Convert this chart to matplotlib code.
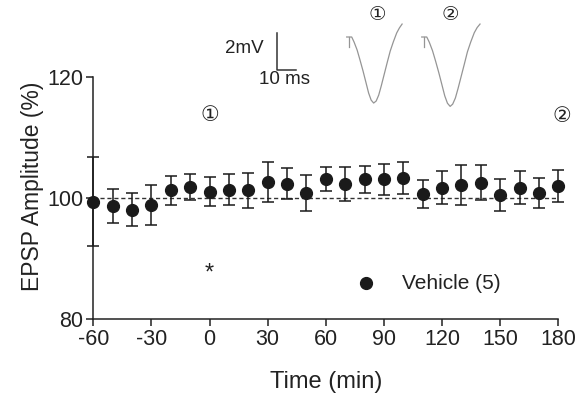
import matplotlib
matplotlib.use("Agg")
import matplotlib.pyplot as plt

plt.rcParams['font.family'] = ['Liberation Sans', 'DejaVu Sans']
plt.rcParams['axes.unicode_minus'] = False

# time course (min) and normalised EPSP amplitude, mean +/- SEM
time_min = [-60, -50, -40, -30, -20, -10, 0, 10, 20, 30, 40, 50, 60,
            70, 80, 90, 100, 110, 120, 130, 140, 150, 160, 170, 180]
epsp_mean = [99.4, 98.7, 98.1, 98.8, 101.3, 101.8, 101.0, 101.4, 101.3,
             102.7, 102.4, 100.8, 103.1, 102.3, 103.1, 103.1, 103.3,
             100.6, 101.7, 102.1, 102.5, 100.5, 101.7, 100.8, 102.0]
epsp_sem = [7.4, 2.8, 2.8, 3.3, 2.4, 2.1, 2.4, 2.6, 2.9, 3.3, 2.5, 3.0,
            2.0, 2.75, 2.2, 2.6, 2.6, 2.3, 2.7, 3.3, 2.9, 2.7, 2.7, 2.5, 2.7]
x_ticks = [-60, -30, 0, 30, 60, 90, 120, 150, 180]
y_ticks = [80, 100, 120]

# example EPSP traces (ms, mV) at the two marked time points
trace1_ms = [0, 2.8, 4.1, 5.8, 7.4, 9.1, 10.8, 12.2, 13.6, 15.0, 16.4,
             17.8, 19.2, 20.9, 22.6, 24.2, 25.9, 27.8, 29.3, 30.8]
trace1_mv = [0, 0, -0.27, -0.70, -1.24, -1.84, -2.49, -3.03, -3.41, -3.57,
             -3.46, -3.14, -2.65, -2.0, -1.35, -0.76, -0.27, 0.22, 0.49, 0.70]
trace2_ms = [0, 2.8, 4.2, 6.0, 7.7, 9.5, 11.3, 12.8, 14.3, 15.8, 17.2,
             18.7, 20.2, 22.0, 23.8, 25.4, 27.2, 29.2, 30.8, 32.4]
trace2_mv = [0, 0, -0.28, -0.74, -1.30, -1.93, -2.61, -3.18, -3.58, -3.75,
             -3.63, -3.30, -2.78, -2.10, -1.42, -0.80, -0.28, 0.23, 0.51, 0.70]

txt = '#222222'
circ = ['DejaVu Sans', 'Noto Sans CJK SC']
fig = plt.figure(figsize=(5.82, 4.05), dpi=100)
ax = fig.add_axes([0.1603, 0.2123, 0.7990, 0.5975])

ax.axhline(100, color='#333333', lw=1.0, ls=(0, (3, 2)), zorder=1)
ax.errorbar(time_min, epsp_mean, yerr=epsp_sem, fmt='o', color='#1a1a1a',
            ms=8.5, elinewidth=1.1, capsize=4, capthick=1.1, clip_on=False, zorder=3)

ax.set_xlim(-60, 180)
ax.set_ylim(80, 120)
ax.set_xticks(x_ticks)
ax.set_yticks(y_ticks)
for s in ['top', 'right']:
    ax.spines[s].set_visible(False)
for s in ['left', 'bottom']:
    ax.spines[s].set_linewidth(1.1)
    ax.spines[s].set_color('#222222')
ax.tick_params(length=5, width=1.1, labelsize=15.5, colors='#222222', labelcolor=txt, pad=2)
ax.set_xlabel('Time (min)', fontsize=17, color=txt)
ax.set_ylabel('EPSP Amplitude (%)', fontsize=16.5, color=txt)
ax.xaxis.set_label_coords(0.5, -0.215)
ax.yaxis.set_label_coords(-0.105, 0.55)

# sampled time points and drug application
ax.text(0, 113.7, '①', ha='center', va='center', fontsize=15, color=txt, family=circ)
ax.text(182, 113.5, '②', ha='center', va='center', fontsize=15, color=txt, family=circ)
ax.text(0, 87.6, '*', ha='center', va='center', fontsize=17, color=txt)

# legend entry
ax.plot([80.6], [85.9], 'o', color='#1a1a1a', ms=8.5)
ax.text(99.3, 85.9, 'Vehicle (5)', ha='left', va='center', fontsize=15, color=txt)

# inset with example traces and scale bar
ins = fig.add_axes([200 / 582, 1 - 120 / 405, 300 / 582, 120 / 405])
ins.set_xlim(0, 166.7)
ins.set_ylim(-4.486, 2.0)
ins.axis('off')
ins.patch.set_alpha(0)

gray = '#959595'
t1 = 81.5
t2 = 123.2
ins.plot([t1 + t for t in trace1_ms], trace1_mv, color=gray, lw=0.9)
ins.plot([t1 + 1.4, t1 + 1.4], [0, -0.54], color=gray, lw=0.9)
ins.plot([t2 + t for t in trace2_ms], trace2_mv, color=gray, lw=0.9)
ins.plot([t2 + 1.4, t2 + 1.4], [0, -0.54], color=gray, lw=0.9)

ins.plot([42.8, 42.8, 53.5], [0.216, -1.784, -1.784], color='#333333', lw=1.1)
ins.text(35.6, -0.62, '2mV', ha='right', va='center', fontsize=13.5, color=txt)
ins.text(47.2, -2.3, '10 ms', ha='center', va='center', fontsize=13.5, color=txt)
ins.text(98.3, 1.19, '①', ha='center', va='center', fontsize=14, color=txt, family=circ)
ins.text(138.9, 1.19, '②', ha='center', va='center', fontsize=14, color=txt, family=circ)

fig.savefig('out.png', dpi=100)
